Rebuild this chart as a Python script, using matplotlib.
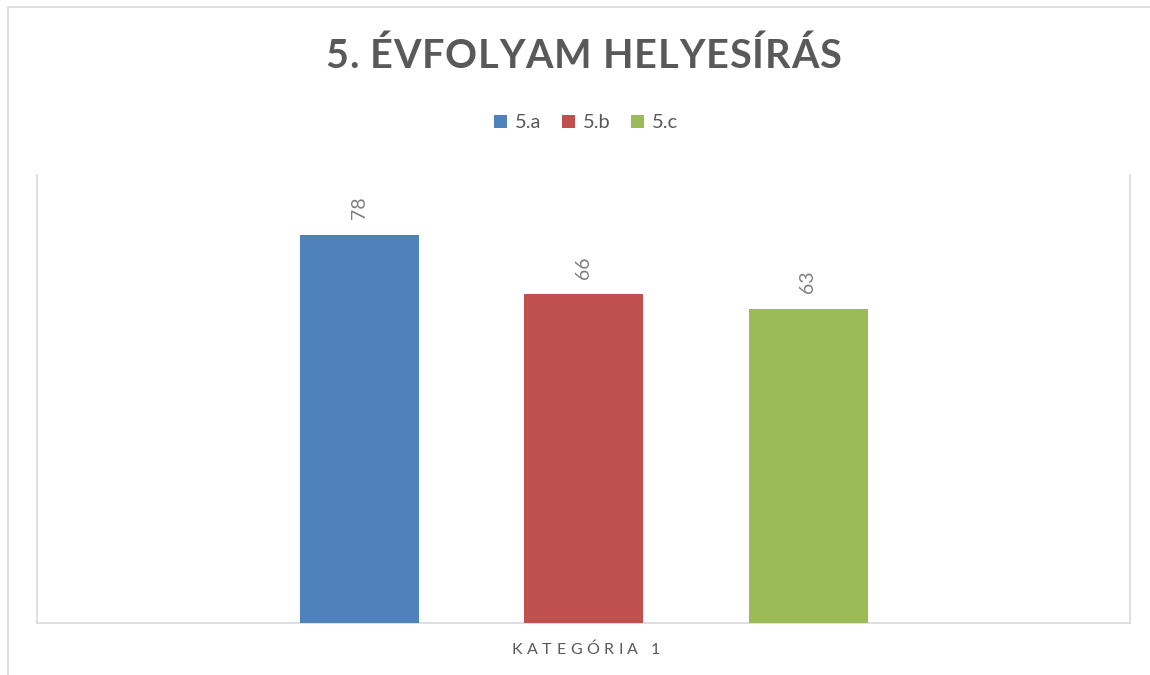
import matplotlib
matplotlib.use("Agg")
import matplotlib.pyplot as plt
from matplotlib.patches import Rectangle

# data
series = ["5.a", "5.b", "5.c"]
values = [78, 66, 63]
colors = ["#4F81BD", "#C0504D", "#9BBB59"]
category = "KATEGÓRIA 1"
title = "5. ÉVFOLYAM HELYESÍRÁS"

W, H = 1150, 675
plt.rcParams["font.family"] = ["Lato", "DejaVu Sans"]
fig = plt.figure(figsize=(W / 100, H / 100), dpi=100)
renderer = fig.canvas.get_renderer()


def spaced_text(xc, yc, s, spacing, **kw):
    # draw text letter by letter so it can get Excel-like character spacing (pixels)
    widths = []
    for ch in s:
        if ch == " ":
            t2 = fig.text(0, 0, "a a", **kw)
            t3 = fig.text(0, 0, "aa", **kw)
            w = t2.get_window_extent(renderer).width - t3.get_window_extent(renderer).width
            t2.remove(); t3.remove()
        else:
            t = fig.text(0, 0, ch, **kw)
            w = t.get_window_extent(renderer).width
            t.remove()
        widths.append(w)
    total = sum(widths) + spacing * (len(s) - 1)
    x = xc - total / 2
    for ch, w in zip(s, widths):
        if ch != " ":
            fig.text(x / W, yc / H, ch, ha="left", va="center", **kw)
        x += w + spacing


# outer chart frame (cut off at right and bottom like the screenshot)
fig.patches.append(Rectangle((8 / W, -0.1), 1.2, 1 - 7 / H + 0.1,
                             transform=fig.transFigure, fill=False,
                             edgecolor="#d9d9d9", linewidth=1.2))

# plot area
ax = fig.add_axes([37 / W, 1 - 623 / H, (1130 - 37) / W, (623 - 175) / H])
ax.set_xlim(0, 1)
ax.set_ylim(0, 90)

bar_w = 119 / 1093
step = 224.5 / 1093
offsets = [-step, 0, step]
bars = []
for name, v, c, off in zip(series, values, colors, offsets):
    b = ax.bar(0.5 + off, v, width=bar_w, color=c, label=name, zorder=3)
    bars.append(b)
    ax.text(0.5 + off, v + 3.2, str(v), rotation=90, ha="center", va="bottom",
            fontsize=14, color="#7f7f7f")

ax.spines["top"].set_visible(False)
for side in ["left", "right", "bottom"]:
    ax.spines[side].set_color("#d9d9d9")
    ax.spines[side].set_linewidth(1.2)
ax.set_yticks([])
ax.set_xticks([])

spaced_text(586, H - 650, category, 4.5, fontsize=11.5, color="#595959")
spaced_text(583, H - 56, title, 0.8, fontsize=28.5, fontweight="bold",
            color="#595959")

fig.legend(handles=bars, labels=series, loc="center", ncol=3,
           bbox_to_anchor=(586 / W, 1 - 123 / H), frameon=False,
           fontsize=14.5, handlelength=0.65, handleheight=0.65,
           handletextpad=0.4, columnspacing=1.0, labelcolor="#595959")

fig.savefig("out.png", dpi=100)
